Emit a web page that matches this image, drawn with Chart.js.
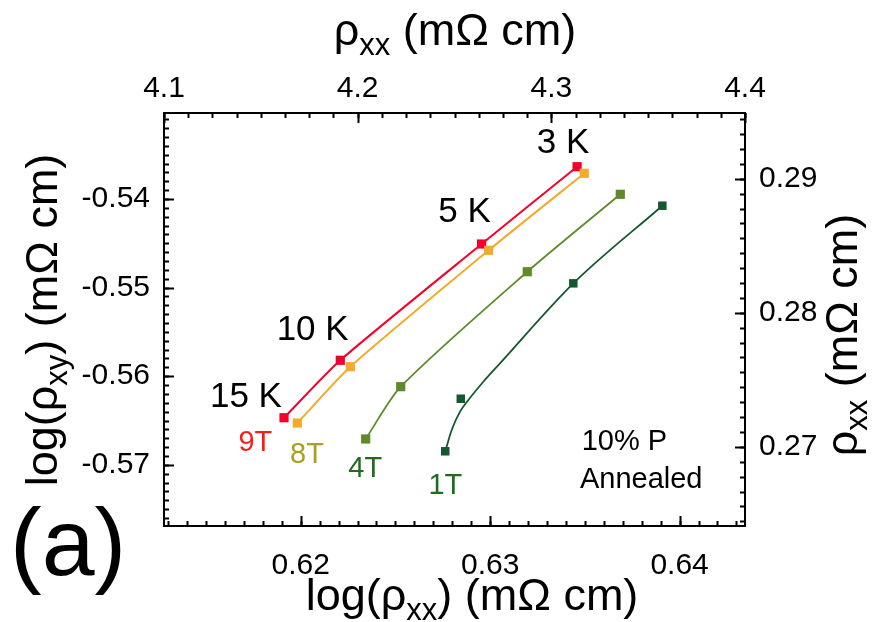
<!DOCTYPE html>
<html>
<head>
<meta charset="utf-8">
<script src="https://cdn.jsdelivr.net/npm/chart.js@4.4.1/dist/chart.umd.min.js"></script>
<style>
  html, body { margin: 0; padding: 0; background: #fff; }
</style>
</head>
<body>
<canvas id="plot" width="877" height="622"></canvas>
<script>
const FONT = '"Liberation Sans", Arial, sans-serif';

// log(rho_xx) vs log(rho_xy), points at 3, 5, 10, 15 K
const x9T = [0.61912, 0.62209, 0.62955, 0.63459];
const y9T = [-0.56468, -0.55820, -0.54508, -0.53636];
const x8T = [0.61982, 0.62262, 0.62992, 0.63497];
const y8T = [-0.56528, -0.55893, -0.54579, -0.53710];
const x4T = [0.62343, 0.62528, 0.63196, 0.63687];
const y4T = [-0.56708, -0.56118, -0.54821, -0.53947];
const x1T = [0.62763, 0.62845, 0.63439, 0.63909];
const y1T = [-0.56847, -0.56254, -0.54952, -0.54076];
// fitted curve for 1T
const x1Tfit = [0.62763, 0.62797, 0.62841, 0.62885, 0.62964, 0.63052, 0.63439, 0.63909];
const y1Tfit = [-0.56847, -0.56607, -0.56400, -0.56268, -0.56062, -0.55854, -0.54952, -0.54076];

const xTicks = [0.62, 0.63, 0.64];
const yTicks = [-0.57, -0.56, -0.55, -0.54];
const x2Ticks = [4.1, 4.2, 4.3, 4.4];
const y2Ticks = [0.27, 0.28, 0.29];

const xMin = Math.log10(4.1), xMax = Math.log10(4.4);
const yMin = -0.5769, yMax = -0.5303;
const y2Min = 0.2641, y2Max = 0.2949;

const pts = (xs, ys) => xs.map((x, i) => ({ x: x, y: ys[i] }));

const annotations = [
  { text: '3 K', x: 0.63246, y: -0.53481, size: 35, color: '#000' },
  { text: '5 K', x: 0.62726, y: -0.54257, size: 35, color: '#000' },
  { text: '10 K', x: 0.61873, y: -0.55591, size: 35, color: '#000' },
  { text: '15 K', x: 0.61521, y: -0.56344, size: 35, color: '#000' },
  { text: '9T', x: 0.61671, y: -0.56840, size: 29, color: '#ff1a1a' },
  { text: '8T', x: 0.61944, y: -0.56982, size: 29, color: '#a8a21e' },
  { text: '4T', x: 0.62251, y: -0.57134, size: 29, color: '#1f6b1f' },
  { text: '1T', x: 0.62674, y: -0.57329, size: 29, color: '#1f6b1f' },
  { text: '10% P', x: 0.63483, y: -0.56832, size: 29, color: '#000' },
  { text: 'Annealed', x: 0.63474, y: -0.57265, size: 29, color: '#000' }
];

function minorValues(min, max, anchor, step) {
  const out = [];
  let k = Math.ceil((min - anchor) / step - 1e-9);
  while (anchor + k * step <= max + 1e-12) {
    out.push(anchor + k * step);
    k++;
  }
  return out;
}

// text with subscript pieces: [[text, isSub], ...]
function drawRich(ctx, parts, size) {
  const subSize = Math.round(size * 0.68);
  let w = 0;
  parts.forEach(p => {
    ctx.font = (p[1] ? subSize : size) + 'px ' + FONT;
    w += ctx.measureText(p[0]).width;
  });
  let x = -w / 2;
  parts.forEach(p => {
    ctx.font = (p[1] ? subSize : size) + 'px ' + FONT;
    ctx.fillText(p[0], x, p[1] ? size * 0.22 : 0);
    x += ctx.measureText(p[0]).width;
  });
}

const framePlugin = {
  id: 'frame',
  afterDraw(chart) {
    const ctx = chart.ctx;
    const a = chart.chartArea;
    const s = chart.scales;
    ctx.save();
    ctx.strokeStyle = '#000';
    ctx.lineWidth = 2;
    ctx.strokeRect(a.left, a.top, a.right - a.left, a.bottom - a.top);

    const tick = (len, vals, sc, side) => {
      vals.forEach(v => {
        const p = Math.round(sc.getPixelForValue(v)) + 0.5;
        ctx.beginPath();
        if (side === 'bottom') { ctx.moveTo(p, a.bottom); ctx.lineTo(p, a.bottom - len); }
        if (side === 'top') { ctx.moveTo(p, a.top); ctx.lineTo(p, a.top + len); }
        if (side === 'left') { ctx.moveTo(a.left, p); ctx.lineTo(a.left + len, p); }
        if (side === 'right') { ctx.moveTo(a.right, p); ctx.lineTo(a.right - len, p); }
        ctx.stroke();
      });
    };
    ctx.lineWidth = 2;
    tick(5, minorValues(xMin, xMax, 0.62, 0.001), s.x, 'bottom');
    tick(10, xTicks, s.x, 'bottom');
    tick(5, minorValues(4.1, 4.4, 4.1, 0.0125), s.x2, 'top');
    tick(10, x2Ticks, s.x2, 'top');
    tick(5, minorValues(yMin, yMax, -0.57, 0.001), s.y, 'left');
    tick(10, yTicks, s.y, 'left');
    tick(5, minorValues(y2Min, y2Max, 0.27, 0.01 / 9), s.y2, 'right');
    tick(10, y2Ticks, s.y2, 'right');

    // annotations
    ctx.textAlign = 'left';
    ctx.textBaseline = 'alphabetic';
    annotations.forEach(t => {
      ctx.font = t.size + 'px ' + FONT;
      ctx.fillStyle = t.color;
      ctx.fillText(t.text, s.x.getPixelForValue(t.x), s.y.getPixelForValue(t.y));
    });

    // axis titles
    ctx.fillStyle = '#000';
    ctx.textAlign = 'left';
    ctx.save();
    ctx.translate(472, 610);
    drawRich(ctx, [['log(ρ', false], ['xx', true], [') (mΩ cm)', false]], 45);
    ctx.restore();

    ctx.save();
    ctx.translate(455, 45);
    drawRich(ctx, [['ρ', false], ['xx', true], [' (mΩ cm)', false]], 45);
    ctx.restore();

    ctx.save();
    ctx.translate(57, 320);
    ctx.rotate(-Math.PI / 2);
    drawRich(ctx, [['log(ρ', false], ['xy', true], [') (mΩ cm)', false]], 45);
    ctx.restore();

    ctx.save();
    ctx.translate(857, 335);
    ctx.rotate(-Math.PI / 2);
    drawRich(ctx, [['ρ', false], ['xx', true], [' (mΩ cm)', false]], 45);
    ctx.restore();

    ctx.font = '95px ' + FONT;
    ctx.fillText('(a)', 10, 575);
    ctx.restore();
  }
};

const tickFont = { family: FONT, size: 30 };

function axis(position, min, max, values, digits, pad, size) {
  return {
    type: 'linear',
    position: position,
    min: min,
    max: max,
    grid: { display: false, drawTicks: false },
    border: { display: false },
    ticks: {
      font: tickFont,
      color: '#000',
      padding: pad,
      callback: v => Number(v).toFixed(digits)
    },
    afterBuildTicks: sc => { sc.ticks = values.map(v => ({ value: v })); },
    afterFit: sc => {
      if (position === 'left' || position === 'right') sc.width = size;
      else sc.height = size;
    }
  };
}

new Chart(document.getElementById('plot'), {
  type: 'scatter',
  data: {
    datasets: [
      { label: '1T fit', data: pts(x1Tfit, y1Tfit), showLine: true, borderColor: '#15572e', borderWidth: 1.8, pointRadius: 0, cubicInterpolationMode: 'monotone' },
      { label: '1T', data: pts(x1T, y1T), showLine: false, backgroundColor: '#15572e', borderWidth: 0, pointStyle: 'rect', pointRadius: 6 },
      { label: '4T', data: pts(x4T, y4T), showLine: true, borderColor: '#5e8a2a', backgroundColor: '#5e8a2a', borderWidth: 1.8, pointStyle: 'rect', pointRadius: 6.5, pointBorderWidth: 0, tension: 0.25 },
      { label: '8T', data: pts(x8T, y8T), showLine: true, borderColor: '#f0ac2a', backgroundColor: '#f0ac2a', borderWidth: 2, pointStyle: 'rect', pointRadius: 6.5, pointBorderWidth: 0, tension: 0.2 },
      { label: '9T', data: pts(x9T, y9T), showLine: true, borderColor: '#f5002c', backgroundColor: '#f5002c', borderWidth: 2, pointStyle: 'rect', pointRadius: 6.5, pointBorderWidth: 0, tension: 0.2 }
    ]
  },
  options: {
    responsive: false,
    animation: false,
    devicePixelRatio: 1,
    layout: { padding: 0 },
    plugins: { legend: { display: false }, tooltip: { enabled: false } },
    events: [],
    scales: {
      x: axis('bottom', xMin, xMax, xTicks, 2, 22, 96),
      x2: axis('top', 4.1, 4.4, x2Ticks, 1, 6, 113),
      y: axis('left', yMin, yMax, yTicks, 2, 14, 164),
      y2: axis('right', y2Min, y2Max, y2Ticks, 2, 14, 132)
    }
  },
  plugins: [framePlugin]
});
</script>
</body>
</html>
